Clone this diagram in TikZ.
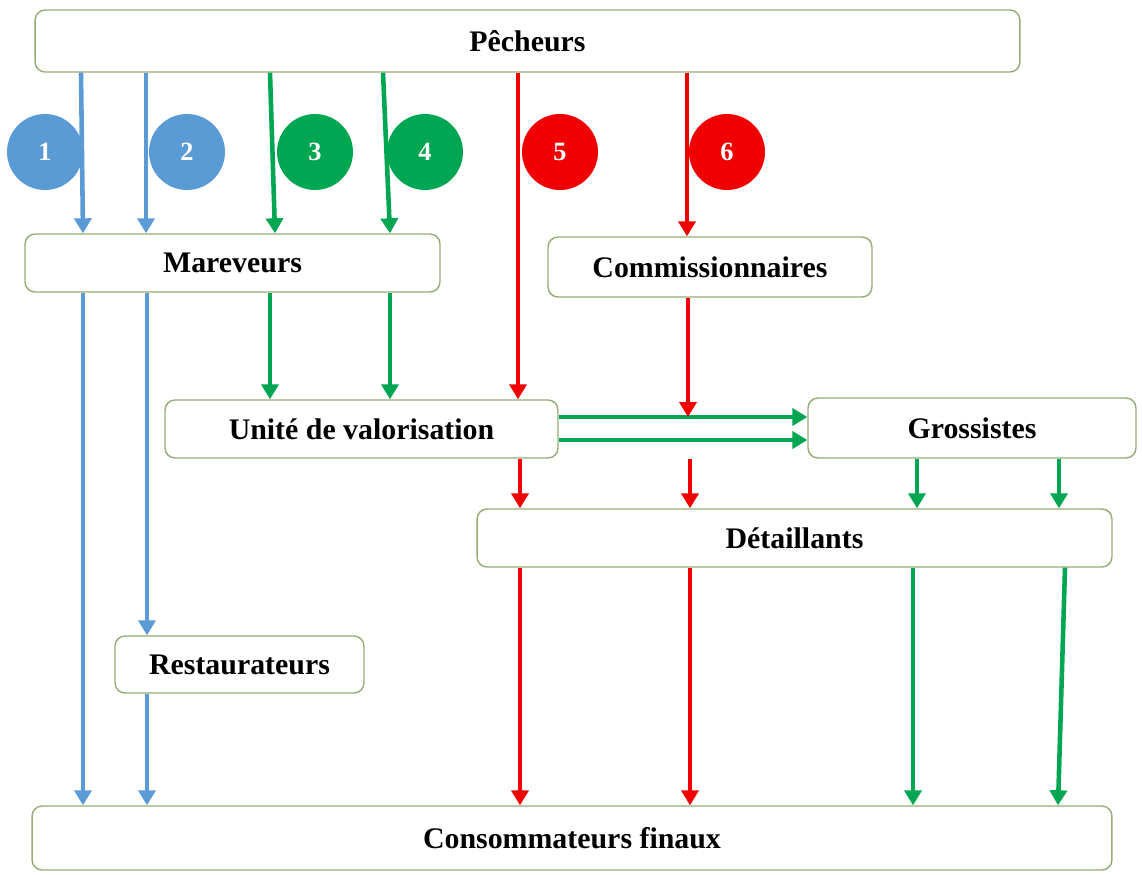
\documentclass[tikz,border=0pt]{standalone}
\usepackage{fontspec}
\setmainfont{Liberation Serif}
\usetikzlibrary{arrows.meta}
\definecolor{bleu}{RGB}{91,155,213}
\definecolor{vert}{RGB}{0,166,81}
\definecolor{rouge}{RGB}{240,0,0}
\definecolor{bord}{RGB}{150,172,115}
\begin{document}
\begin{tikzpicture}[x=0.02cm, y=-0.02cm,
    boite/.style={draw=bord, line width=0.8pt, fill=white, rounded corners=0.2cm,
        inner sep=0pt, font=\fontsize{17}{20}\selectfont\bfseries},
    rond/.style={circle, fill=#1, text=white, minimum size=1.52cm, inner sep=0pt,
        font=\fontsize{15}{17}\selectfont\bfseries},
    fleche/.style={draw=#1, line width=2.6pt, -{Triangle[length=3mm,width=3.4mm]}}]
    \useasboundingbox (0,0) rectangle (1142,875);

    % Numéros des circuits
    \node[rond=bleu] (c1) at (45,152) {1};
    \node[rond=bleu] (c2) at (187,152) {2};
    \node[rond=vert] (c3) at (315,152) {3};
    \node[rond=vert] (c4) at (425,152) {4};
    \node[rond=rouge] (c5) at (560,152) {5};
    \node[rond=rouge] (c6) at (727,152) {6};

    % Acteurs
    \node[boite, minimum width=19.7cm, minimum height=1.24cm] (pech) at (527.5,41) {Pêcheurs};
    \node[boite, minimum width=8.3cm, minimum height=1.16cm] (mar) at (232.5,263) {Mareveurs};
    \node[boite, minimum width=6.48cm, minimum height=1.2cm] (comm) at (710,267) {Commissionnaires};
    \node[boite, minimum width=7.86cm, minimum height=1.16cm] (unite) at (361.5,429) {Unité de valorisation};
    \node[boite, minimum width=6.56cm, minimum height=1.2cm] (gros) at (972,428) {Grossistes};
    \node[boite, minimum width=12.7cm, minimum height=1.16cm] (det) at (794.5,538) {Détaillants};
    \node[boite, minimum width=4.98cm, minimum height=1.14cm] (resto) at (239.5,664.5) {Restaurateurs};
    \node[boite, minimum width=21.6cm, minimum height=1.28cm] (conso) at (572,838) {Consommateurs finaux};

    % Circuits 1 et 2
    \draw[fleche=bleu] (pech.south -| 81,0) -- (mar.north -| 83,0);
    \draw[fleche=bleu] (mar.south -| 83,0) -- (conso.north -| 83,0);
    \draw[fleche=bleu] (pech.south -| 146,0) -- (mar.north -| 146,0);
    \draw[fleche=bleu] (mar.south -| 147,0) -- (resto.north -| 147,0);
    \draw[fleche=bleu] (resto.south -| 147,0) -- (conso.north -| 147,0);

    % Circuits 3 et 4
    \draw[fleche=vert] (pech.south -| 270,0) -- (mar.north -| 275,0);
    \draw[fleche=vert] (mar.south -| 270,0) -- (unite.north -| 270,0);
    \draw[fleche=vert] (pech.south -| 383,0) -- (mar.north -| 390,0);
    \draw[fleche=vert] (mar.south -| 390,0) -- (unite.north -| 390,0);
    \draw[fleche=vert] (unite.east |- 0,417) -- (gros.west |- 0,417);
    \draw[fleche=vert] (unite.east |- 0,440) -- (gros.west |- 0,440);
    \draw[fleche=vert] (gros.south -| 917,0) -- (det.north -| 917,0);
    \draw[fleche=vert] (gros.south -| 1059,0) -- (det.north -| 1059,0);
    \draw[fleche=vert] (det.south -| 913,0) -- (conso.north -| 913,0);
    \draw[fleche=vert] (det.south -| 1065,0) -- (conso.north -| 1058,0);

    % Circuits 5 et 6
    \draw[fleche=rouge] (pech.south -| 518,0) -- (unite.north -| 518,0);
    \draw[fleche=rouge] (unite.south -| 520,0) -- (det.north -| 520,0);
    \draw[fleche=rouge] (det.south -| 520,0) -- (conso.north -| 520,0);
    \draw[fleche=rouge] (pech.south -| 687,0) -- (comm.north -| 687,0);
    \coordinate (jonction) at (688,417);
    \draw[fleche=rouge] (comm.south -| 688,0) -- (jonction);
    \draw[fleche=rouge] (unite.south -| 690,0) -- (det.north -| 690,0);
    \draw[fleche=rouge] (det.south -| 690,0) -- (conso.north -| 690,0);
\end{tikzpicture}
\end{document}
